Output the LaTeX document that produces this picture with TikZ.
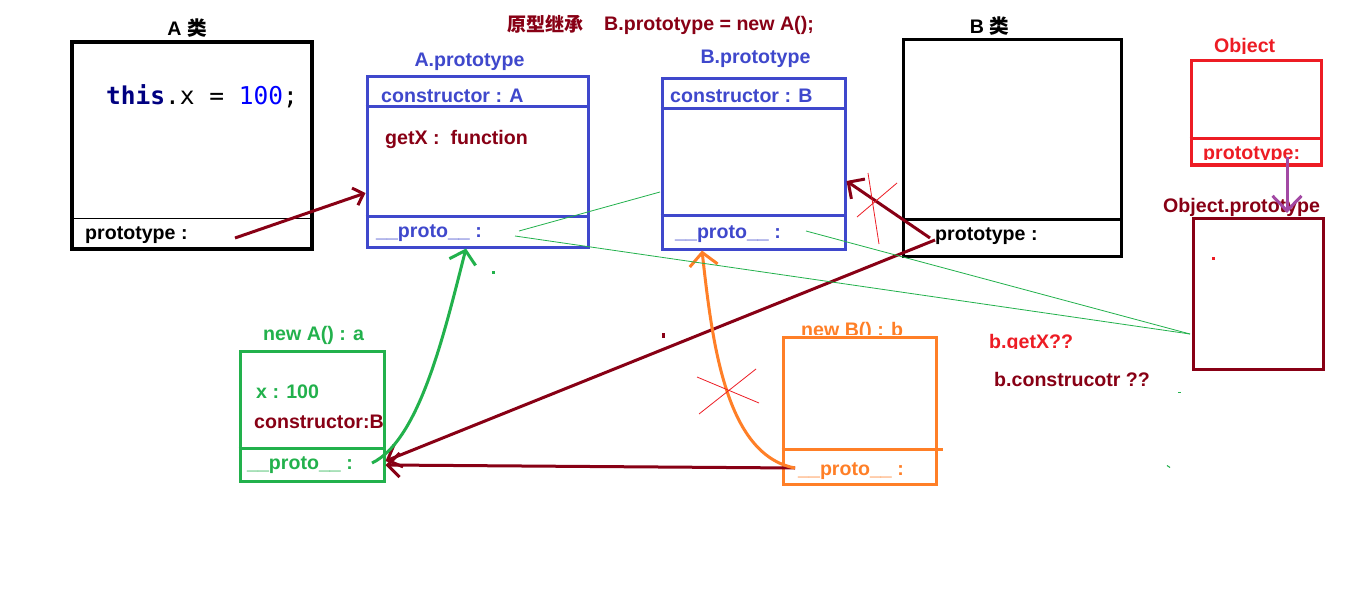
\documentclass[tikz,border=0pt]{standalone}
\usepackage{fontspec}
\setmainfont{Liberation Sans}
\newfontfamily\cjk{Noto Sans CJK SC}
\newfontfamily\codefont{DejaVu Sans Mono}
\usepackage{tikz}
\usetikzlibrary{positioning,arrows.meta,calc}
\definecolor{pblue}{HTML}{3F48CC}
\definecolor{pdred}{HTML}{880015}
\definecolor{pred}{HTML}{ED1C24}
\definecolor{pgreen}{HTML}{22B14C}
\definecolor{porange}{HTML}{FF7F27}
\definecolor{ppurple}{HTML}{A349A4}
\definecolor{cnavy}{HTML}{000080}
\definecolor{cblue}{HTML}{0000FF}
\tikzset{
  obj_box/.style = {rectangle, draw, inner sep=0pt, line width=3pt},
  obj_lbl/.style = {anchor=base west, inner sep=0pt,
    font=\fontsize{19.6}{22}\selectfont\bfseries},
  obj_ttl/.style = {obj_lbl, anchor=base},% title above a box
  obj_sep/.style = {line width=3pt},
  link/.style = {draw=pdred, line width=3pt,
    -{Straight Barb[length=9pt,width=18pt]}},
  hint/.style = {draw=pgreen, line width=0.8pt},
  cross/.style = {draw=pred, line width=0.8pt}
}

\begin{document}
\begin{tikzpicture}[x=1pt,y=-1pt]
\fill[white] (0,0) rectangle (1360,591);

% heading
\node[obj_lbl, pdred, font=\fontsize{19}{22}\selectfont\bfseries\cjk] (head_cn) at (507,32) {原型继承};
\node[obj_lbl, pdred] (head_code) at (604,31) {B.prototype = new A();};

% A 类
\node[obj_box, line width=4pt, minimum width=240pt, minimum height=207pt] (clsA) at (192,145.5) {};
\draw[line width=1pt] ([yshift=33pt]clsA.south west) -- ([yshift=33pt]clsA.south east);
\node[obj_ttl] (clsA_t) at (187,36) {A {\cjk 类}};
\node[obj_lbl, font=\codefont\fontsize{24.5}{28}\selectfont] (clsA_code) at (106,105)
  {{\bfseries\color{cnavy}this}.x = {\color{cblue}100};};
\node[obj_lbl] (clsA_p) at (85,239) {prototype :};

% A.prototype
\node[obj_box, draw=pblue, minimum width=221pt, minimum height=170pt] (protoA) at (477.5,162) {};
\draw[obj_sep, pblue] ([yshift=-31pt]protoA.north west) -- ([yshift=-31pt]protoA.north east);
\draw[obj_sep, pblue] ([yshift=32pt]protoA.south west) -- ([yshift=32pt]protoA.south east);
\node[obj_ttl, pblue] (protoA_t) at (469.5,67) {A.prototype};
\node[obj_lbl, pblue] (protoA_c) at (381,103) {constructor : A};
\node[obj_lbl, pdred] (protoA_f) at (385,145) {getX :\ \ function};
\node[obj_lbl, pblue] (protoA_p) at (376,237) {\_\_proto\_\_ :};

% B.prototype
\node[obj_box, draw=pblue, minimum width=183pt, minimum height=170pt] (protoB) at (753.5,164) {};
\draw[obj_sep, pblue] ([yshift=-31pt]protoB.north west) -- ([yshift=-31pt]protoB.north east);
\draw[obj_sep, pblue] ([yshift=35pt]protoB.south west) -- ([yshift=35pt]protoB.south east);
\node[obj_ttl, pblue] (protoB_t) at (755.5,64) {B.prototype};
\node[obj_lbl, pblue] (protoB_c) at (670,103) {constructor : B};
\node[obj_lbl, pblue] (protoB_p) at (675,238) {\_\_proto\_\_ :};

% B 类
\node[obj_box, minimum width=218pt, minimum height=217pt] (clsB) at (1012,148) {};
\draw[obj_sep] ([yshift=39pt]clsB.south west) -- ([yshift=39pt]clsB.south east);
\node[obj_ttl] (clsB_t) at (989.5,34) {B {\cjk 类}};
\node[obj_lbl] (clsB_p) at (935,240) {prototype :};

% Object
\node[obj_box, draw=pred, minimum width=130pt, minimum height=104pt] (objC) at (1256,113) {};
\draw[obj_sep, pred] ([yshift=28pt]objC.south west) -- ([yshift=28pt]objC.south east);
\begin{scope}
  \clip (1150,0) rectangle (1350,53.2);
  \node[obj_lbl, pred] (objC_t) at (1214,53) {Object};
\end{scope}
\begin{scope}
  \clip (1195,130) rectangle (1318,159.5);
  \node[obj_lbl, pred] (objC_p) at (1203,159.3) {prototype:};
\end{scope}

% Object.prototype
\node[obj_box, draw=pdred, minimum width=130pt, minimum height=151pt] (objP) at (1258,293.5) {};
\node[obj_lbl, pdred] (objP_t) at (1163,212) {Object.prototype};
\fill[pred] (1211.5,256.5) rectangle +(3,3);
\draw[ppurple, line width=3pt, -{Straight Barb[length=15pt,width=29pt]}]
  (1287,157) -- (1287,213);

% new A() : a
\node[obj_box, draw=pgreen, minimum width=144pt, minimum height=130pt] (instA) at (312,416) {};
\draw[obj_sep, pgreen] ([yshift=34pt]instA.south west) -- ([yshift=34pt]instA.south east);
\node[obj_lbl, pgreen] (instA_t) at (263,340) {new A() : a};
\node[obj_lbl, pgreen] (instA_x) at (256,398) {x : 100};
\node[obj_lbl, pdred] (instA_c) at (254,428) {constructor:B};
\node[obj_lbl, pgreen] (instA_p) at (247,469) {\_\_proto\_\_ :};

% new B() : b
\begin{scope}
  \clip (780,300) rectangle (960,334.5);
  \node[obj_lbl, porange] (instB_t) at (801,336) {new B() : b};
\end{scope}
\node[obj_box, draw=porange, minimum width=153pt, minimum height=147pt] (instB) at (859.5,410.5) {};
\draw[obj_sep, porange] ([yshift=36pt]instB.south west) -- ([yshift=36pt,xshift=5pt]instB.south east);
\node[obj_lbl, porange] (instB_p) at (798,475) {\_\_proto\_\_ :};

% questions
\begin{scope}
  \clip (980,320) rectangle (1090,348.5);
  \node[obj_lbl, pred] (q_getx) at (989,348) {b.getX??};
\end{scope}
\node[obj_lbl, pdred] (q_ctor) at (994,386) {b.construcotr ??};

% free ends
\coordinate (clsA_out) at (235,238);
\coordinate (clsB_out1) at (930,238);
\coordinate (clsB_out2) at (935,240);
\coordinate (instB_out) at (795,468);
\coordinate (instA_out) at (372,463);
\coordinate (protoA_out1) at (519,231);
\coordinate (protoA_out2) at (515,236);
\coordinate (protoB_out) at (806,231);
\coordinate (protoB_in) at (660,192);
\coordinate (objP_in) at (1190,334);

% prototype links
\draw[link] (clsA_out) -- ([yshift=-31pt]protoA.west);
\draw[link, -{Straight Barb[length=12pt,width=24pt]}] (clsB_out1) -- ([yshift=-17pt]protoB.east);
\draw[link, -{Straight Barb[length=12pt,width=24pt]}] (clsB_out2) -- ([yshift=-45pt]instA.east);
\draw[link, -{Straight Barb[length=12pt,width=24pt]}] (instB_out) -- ([yshift=-49pt]instA.east);

% __proto__ chains
\draw[pgreen, line width=3pt, -{Straight Barb[length=12pt,width=27pt]}]
  (instA_out) .. controls (420,440) and (445,330) .. ([xshift=-11.5pt]protoA.south);
\draw[porange, line width=3pt, -{Straight Barb[length=13pt,width=28pt]}]
  (instB_out) .. controls (725,455) and (712,340) .. ([xshift=-51.5pt]protoB.south);

% thin hints
\draw[hint] (protoA_out1) -- (protoB_in);
\draw[hint] (protoA_out2) -- (objP_in);
\draw[hint] (protoB_out) -- (objP_in);

% crossed out
\draw[cross] (868,173) -- (879,244);
\draw[cross] (897,183) -- (857,217);
\draw[cross] (697,377) -- (759,403);
\draw[cross] (699,414) -- (756,369);

% stray marks
\fill[pgreen] (491.5,270.5) rectangle +(3,3);
\fill[pdred] (661.5,332.5) rectangle +(3,5);
\fill[pgreen] (1178,391.5) rectangle +(3,1.5);
\draw[pgreen, line width=1pt] (1167,465.5) -- (1170,467.5);
\end{tikzpicture}
\end{document}
